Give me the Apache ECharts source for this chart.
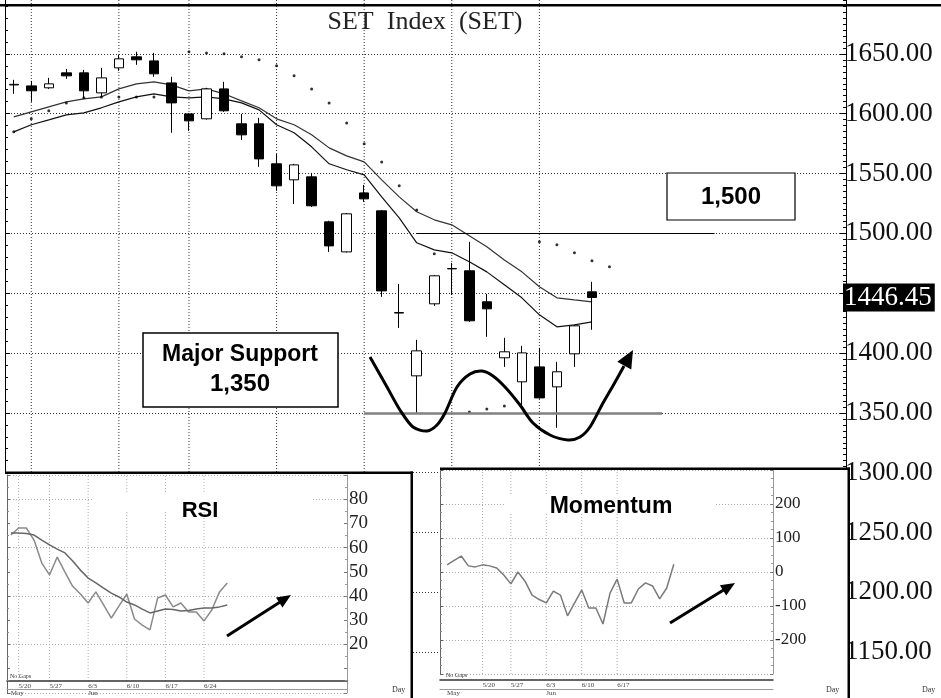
<!DOCTYPE html>
<html><head><meta charset="utf-8">
<script src="https://cdn.jsdelivr.net/npm/echarts@6/dist/echarts.min.js"></script>
<style>html,body{margin:0;padding:0;background:#fff}#c{width:941px;height:698px}</style>
</head><body><div id="c"></div>
<script>
// ---------------- DATA ----------------
const mainDates = ['5/10','5/13','5/14','5/15','5/16','5/17','5/20','5/21','5/22','5/23','5/27','5/28','5/29','5/30','5/31',
  '6/3','6/4','6/5','6/6','6/7','6/10','6/11','6/12','6/13','6/14','6/17','6/18','6/19','6/20','6/21','6/24','6/25','6/26','6/27',
  '6/28','7/1','7/2','7/3','7/4','7/5','7/8','7/9','7/10','7/11','7/12','7/15','7/16','7/17'];
const candleOpen  = [1624.0,1623.2,1621.6,1634.1,1634.1,1617.4,1638.3,1647.5,1644.1,1625.7,1599.8,1595.7,1620.7,1591.5,1591.5,1558.1,1544.7,1547.2,1509.6,1484.5,1533.8,1518.8,1433.4,1380.9,1441.1,1470.3,1468.7,1442.8,1396.0,1375.9,1388.4,1371.7,1399.3,1451.1];
const candleClose = [1624.5,1619.1,1624.9,1631.6,1619.1,1629.9,1645.8,1645.0,1633.3,1609.0,1594.0,1620.7,1602.4,1582.3,1562.2,1539.7,1557.2,1523.0,1489.5,1516.3,1528.8,1451.9,1433.8,1401.8,1464.5,1470.6,1426.9,1436.9,1401.0,1400.1,1362.5,1384.3,1422.7,1446.45];
const candleLow   = [1616.6,1609.9,1620.7,1629.1,1613.2,1614.0,1635.8,1640.8,1630.8,1584.0,1585.6,1595.0,1601.5,1578.1,1555.6,1535.5,1524.6,1522.0,1484.5,1484.0,1526.3,1446.9,1421.0,1350.0,1439.4,1448.6,1426.0,1413.5,1388.4,1353.3,1361.8,1337.5,1388.4,1419.4];
const candleHigh  = [1628.3,1627.4,1629.9,1637.4,1636.6,1638.3,1649.1,1651.7,1650.8,1630.8,1600.5,1621.6,1626.6,1599.8,1596.5,1566.4,1558.1,1550.5,1510.5,1517.0,1540.5,1519.5,1457.8,1411.0,1465.2,1475.3,1492.9,1449.4,1412.7,1406.0,1404.3,1392.6,1423.5,1459.5];
const maUpper = [1597.3,1601.5,1605.7,1609.9,1612.4,1614.0,1620.7,1624.9,1626.6,1624.1,1619.1,1620.7,1616.6,1610.7,1604.9,1595.7,1590.7,1582.3,1571.4,1564.7,1559.7,1544.7,1530.5,1518.0,1511.3,1507.1,1497.9,1488.7,1477.8,1467.8,1455.3,1446.1,1444.4,1442.8];
const maLower = [1584.8,1590.7,1594.8,1599.0,1600.7,1604.9,1609.9,1614.0,1616.6,1614.0,1613.2,1614.0,1612.4,1609.0,1603.2,1590.7,1584.0,1572.3,1558.1,1553.1,1548.9,1530.5,1512.9,1492.1,1486.2,1483.7,1476.2,1467.8,1457.0,1446.1,1431.9,1421.9,1423.5,1426.0];
const sarValues = [1584.8,1595.7,1602.4,1609.0,1613.2,1614.0,1614.0,1614.0,1614.0,'-',1651.7,1650.8,1650.0,1647.5,1645.0,1640.0,1631.6,1620.7,1609.0,1592.3,1574.8,1559.7,1539.7,1519.6,1482.9,'-',1350.8,1353.3,1355.8,'-',1492.9,1490.4,1483.7,1477.0,1472.0];
const mainGridDates = ['5/13','5/20','5/27','6/3','6/10','6/17','6/24'];
const lastClose = 1446.45;
const resistance = {level: 1500, start: '6/13', end: '7/8'};
const support = {level: 1350, start: '6/10', end: '7/3'};

const rsiDates = mainDates.slice(5).concat(['7/18']);
const rsiValues  = [65.2,68.1,68.1,63.1,53.6,48.7,56.1,49.9,44.0,40.8,37.1,41.7,36.3,30.9,35.9,40.8,30.5,28.0,26.0,39.2,40.4,35.5,37.1,33.4,33.4,29.7,34.2,41.7,45.4];
const rsiSignal  = [66.0,66.0,65.8,65.2,63.1,61.1,59.4,57.8,54.5,50.7,47.4,45.4,43.3,41.2,39.6,37.5,36.3,34.6,33.0,33.8,34.6,34.4,33.8,34.0,34.6,35.0,35.0,35.5,36.3];
const rsiGridDates = ['5/20','5/27','6/3','6/10','6/17','6/24'];

const momentumDates = mainDates;      // first category (5/10) has no value
const momentumValues = [21,34,47,18,15,21,18,12,-9,-35,0,-27,-68,-81,-91,-56,-68,-129,-91,-53,-106,-106,-153,-62,-21,-91,-91,-50,-32,-41,-79,-47,23];
const momentumGridDates = ['5/20','5/27','6/3','6/10','6/17'];

const mainY = {min: 1100, max: 1700, step: 50};
const rsiY = {min: 0, max: 90, step: 10, gridStep: 20, lo: 20, hi: 80, axisAt: 4.9};
const momY = {min: -300, max: 300, step: 100, lo: -200, hi: 200};
const monthNames = {'5': 'May', '6': 'Jun', '7': 'Jul'};

// ---------------- HELPERS ----------------
const serif = '"Liberation Serif", "Times New Roman", serif';
const sans = '"Liberation Sans", Arial, sans-serif';
function vGrid(xIdx, yIdx, dates, from, to, color, z) {
  return {type: 'custom', xAxisIndex: xIdx, yAxisIndex: yIdx, z: z, silent: true,
    data: dates.map(d => [d, from]), encode: {x: 0, y: 1},
    renderItem: function (params, api) {
      const a = api.coord([api.value(0), from]);
      const b = api.coord([api.value(0), to]);
      return {type: 'line', shape: {x1: a[0], y1: a[1], x2: b[0], y2: b[1]},
        style: {stroke: color, lineWidth: 1, lineDash: [1, 2]}};
    }};
}
function monthInterval(dates, first, count) {
  return function (i) {
    if (i < first || i >= first + count) return false;
    return i === first || dates[i].split('/')[0] !== dates[i - 1].split('/')[0];
  };
}
function monthLabel(v) { return monthNames[v.split('/')[0]] || ''; }
function arrow(from, tip, len, half, width, z) {
  const dx = tip[0] - from[0], dy = tip[1] - from[1], L = Math.hypot(dx, dy);
  const ux = dx / L, uy = dy / L;
  const bx = tip[0] - ux * len, by = tip[1] - uy * len;
  return [
    {type: 'line', z: z, shape: {x1: from[0], y1: from[1], x2: bx + ux * 2, y2: by + uy * 2}, style: {stroke: '#000', lineWidth: width}},
    {type: 'polygon', z: z, shape: {points: [tip, [bx - uy * half, by + ux * half], [bx + uy * half, by - ux * half]]}, style: {fill: '#000'}}
  ];
}

// annotation geometry (hand drawn shapes in the picture)
const wCurve = [[370,357],[387,387],[400,410],[413,427],[427,431],[437,425],[445,413],[457,387],[470,374],[482,371],[493,376],[505,387],[520,405],[533,423],[550,435],[568,440],[580,437],[590,427],[603,403],[614,384]];
const wTip = [633,350];

const chart = echarts.init(document.getElementById('c'));
const candles = candleOpen.map((o, i) => [o, candleClose[i], candleLow[i], candleHigh[i]]);

function insetDateAxis(grid, dates, gridDates, offset, boundaryGap) {
  return {gridIndex: grid, type: 'category', position: 'bottom', data: dates, boundaryGap: boundaryGap, offset: offset, z: 10,
    axisLine: {onZero: false, lineStyle: {color: '#333', width: 1.5}}, axisTick: {show: false},
    axisLabel: {interval: (i, v) => gridDates.includes(v), align: 'left', fontSize: 7, fontFamily: serif, color: '#444', margin: 2},
    splitLine: {show: false}};
}
function insetMonthAxis(grid, dates, first, count, offset, boundaryGap) {
  return {gridIndex: grid, type: 'category', position: 'bottom', data: dates, boundaryGap: boundaryGap, offset: offset, z: 10,
    axisLine: {onZero: false, lineStyle: {color: '#999', width: 1}}, axisTick: {show: false},
    axisLabel: {interval: monthInterval(dates, first, count), formatter: monthLabel, align: 'left', fontSize: 7, fontFamily: serif, color: '#444', margin: 1},
    splitLine: {show: false}};
}

const option = {
  animation: false,
  backgroundColor: '#fff',
  grid: [
    {left: 5, right: 95, top: -6, bottom: -14, containLabel: false, outerBoundsMode: 'none'},
    {left: 7, width: 340, top: 475, bottom: 5.2, containLabel: false, outerBoundsMode: 'none'},
    {left: 440, width: 333, top: 470, bottom: 24, containLabel: false, outerBoundsMode: 'none'}
  ],
  xAxis: [
    {gridIndex: 0, type: 'category', position: 'bottom', data: mainDates, boundaryGap: true,
      axisLine: {show: false, onZero: false}, axisTick: {show: false}, axisLabel: {show: false}, splitLine: {show: false}},
    insetDateAxis(1, rsiDates, rsiGridDates, -11.8, true),
    insetMonthAxis(1, rsiDates, 0, rsiValues.length, -3.8, true),
    insetDateAxis(2, momentumDates, momentumGridDates, 6, false),
    insetMonthAxis(2, momentumDates, 1, momentumValues.length, 15, false)
  ],
  yAxis: [
    {gridIndex: 0, type: 'value', position: 'right', min: mainY.min, max: mainY.max, interval: mainY.step,
      axisLine: {show: true, lineStyle: {color: '#000', width: 1}},
      axisTick: {show: true, inside: true, length: 6, lineStyle: {color: '#000'}},
      minorTick: {show: true, splitNumber: 10, length: 3, lineStyle: {color: '#000'}},
      axisLabel: {formatter: v => (v > mainY.min && v < mainY.max && Math.abs(v - lastClose) > 20) ? v.toFixed(2) : '',
        fontFamily: serif, fontSize: 27, color: '#111', margin: -1},
      splitLine: {show: true, lineStyle: {color: '#333', type: [1, 2], width: 1}}},
    {gridIndex: 0, type: 'value', position: 'left', min: mainY.min, max: mainY.max, interval: mainY.step,
      axisLine: {show: true, lineStyle: {color: '#000', width: 1}},
      axisTick: {show: true, inside: true, length: 5, lineStyle: {color: '#000'}},
      minorTick: {show: true, splitNumber: 5, length: 3, lineStyle: {color: '#000'}},
      axisLabel: {show: false}, splitLine: {show: false}},
    {gridIndex: 1, type: 'value', position: 'right', min: rsiY.min, max: rsiY.max, interval: rsiY.step, z: 10,
      axisLine: {show: true, lineStyle: {color: '#999'}},
      axisTick: {show: true, inside: true, length: 3, lineStyle: {color: '#777'}},
      minorTick: {show: true, splitNumber: 2, length: 2, lineStyle: {color: '#999'}},
      axisLabel: {formatter: v => (v >= rsiY.lo && v <= rsiY.hi) ? String(v) : '', fontFamily: serif, fontSize: 19, color: '#222', margin: 2},
      splitLine: {show: false}},
    {gridIndex: 1, type: 'value', position: 'right', min: rsiY.min, max: rsiY.max, interval: rsiY.gridStep, z: 10,
      axisLine: {show: false}, axisTick: {show: false}, axisLabel: {show: false},
      splitLine: {show: true, lineStyle: {color: '#aaa', type: [1, 2], width: 1}}},
    {gridIndex: 1, type: 'value', position: 'left', min: rsiY.min, max: rsiY.max, interval: rsiY.step, z: 10,
      axisLine: {show: true, lineStyle: {color: '#666'}},
      axisTick: {show: true, inside: true, length: 3, lineStyle: {color: '#666'}},
      minorTick: {show: true, splitNumber: 2, length: 2, lineStyle: {color: '#888'}},
      axisLabel: {show: false}, splitLine: {show: false}},
    {gridIndex: 2, type: 'value', position: 'right', min: momY.min, max: momY.max, interval: momY.step, z: 10,
      axisLine: {show: true, lineStyle: {color: '#999'}},
      axisTick: {show: true, inside: true, length: 3, lineStyle: {color: '#777'}},
      minorTick: {show: true, splitNumber: 4, length: 2, lineStyle: {color: '#999'}},
      axisLabel: {formatter: v => (v >= momY.lo && v <= momY.hi) ? String(v) : '', fontFamily: serif, fontSize: 17, color: '#222', margin: 2},
      splitLine: {show: true, lineStyle: {color: '#aaa', type: [1, 2], width: 1}}},
    {gridIndex: 2, type: 'value', position: 'left', min: momY.min, max: momY.max, interval: momY.step, z: 10,
      axisLine: {show: true, lineStyle: {color: '#666'}},
      axisTick: {show: true, inside: true, length: 3, lineStyle: {color: '#666'}},
      minorTick: {show: true, splitNumber: 4, length: 2, lineStyle: {color: '#888'}},
      axisLabel: {show: false}, splitLine: {show: false}}
  ],
  series: [
    vGrid(0, 0, mainGridDates, mainY.min, mainY.max, '#333', 1),
    {type: 'candlestick', xAxisIndex: 0, yAxisIndex: 0, z: 2, barWidth: 10, data: candles,
      itemStyle: {color: '#fff', color0: '#000', borderColor: '#000', borderColor0: '#000', borderColorDoji: '#000', borderWidth: 1},
      markLine: {silent: true, symbol: ['none', 'none'], animation: false, label: {show: false},
        data: [
          [{coord: [resistance.start, resistance.level], lineStyle: {color: '#000', width: 1.2, type: 'solid'}},
           {coord: [resistance.end, resistance.level], lineStyle: {color: '#000', width: 1.2, type: 'solid'}}],
          [{coord: [support.start, support.level], lineStyle: {color: '#808080', width: 2.5, type: 'solid'}},
           {coord: [support.end, support.level], lineStyle: {color: '#808080', width: 2.5, type: 'solid'}}],
          {yAxis: lastClose, lineStyle: {color: 'rgba(0,0,0,0)', width: 1, type: 'solid'},
            label: {show: true, position: 'end', distance: -3, formatter: () => lastClose.toFixed(2),
              backgroundColor: '#000', color: '#fff', fontFamily: serif, fontSize: 27, padding: [1, 3, 0, 1], opacity: 1}}
        ]}},
    {type: 'line', xAxisIndex: 0, yAxisIndex: 0, z: 2, data: maUpper, symbol: 'none', lineStyle: {color: '#333', width: 1.2}},
    {type: 'line', xAxisIndex: 0, yAxisIndex: 0, z: 2, data: maLower, symbol: 'none', lineStyle: {color: '#111', width: 1.2}},
    {type: 'scatter', xAxisIndex: 0, yAxisIndex: 0, z: 3, data: sarValues, symbol: 'circle', symbolSize: 3, itemStyle: {color: '#000'}},
    vGrid(1, 2, rsiGridDates, rsiY.axisAt, rsiY.max, '#aaa', 9),
    {type: 'line', xAxisIndex: 1, yAxisIndex: 2, z: 10, data: rsiValues, symbol: 'none', lineStyle: {color: '#8a8a8a', width: 1.5}},
    {type: 'line', xAxisIndex: 1, yAxisIndex: 2, z: 10, data: rsiSignal, symbol: 'none', lineStyle: {color: '#666', width: 1.5}},
    vGrid(3, 5, momentumGridDates, momY.min, momY.max, '#aaa', 9),
    {type: 'line', xAxisIndex: 3, yAxisIndex: 5, z: 10, data: [null].concat(momentumValues), symbol: 'none', lineStyle: {color: '#7a7a7a', width: 1.5}}
  ],
  graphic: [
    // title
    {type: 'text', z: 6, x: 425, y: 22, style: {text: 'SET  Index  (SET)', font: '26px ' + serif, fill: '#222', align: 'center', verticalAlign: 'middle'}},
    // 1,500 box
    {type: 'rect', z: 5, shape: {x: 667, y: 173, width: 128, height: 47}, style: {fill: '#fff', stroke: '#000', lineWidth: 1.2}},
    {type: 'text', z: 6, x: 731, y: 197, style: {text: '1,500', font: 'bold 24px ' + sans, fill: '#000', align: 'center', verticalAlign: 'middle'}},
    // Major support box
    {type: 'rect', z: 5, shape: {x: 143, y: 333, width: 195, height: 74}, style: {fill: '#fff', stroke: '#000', lineWidth: 1.5}},
    {type: 'text', z: 6, x: 240, y: 355, style: {text: 'Major Support', font: 'bold 23px ' + sans, fill: '#000', align: 'center', verticalAlign: 'middle'}},
    {type: 'text', z: 6, x: 240, y: 384, style: {text: '1,350', font: 'bold 24px ' + sans, fill: '#000', align: 'center', verticalAlign: 'middle'}},
    // W curve
    {type: 'polyline', z: 6, shape: {points: wCurve.concat([[wTip[0] - 9, wTip[1] + 16]]), smooth: 0.3}, style: {stroke: '#000', lineWidth: 3, fill: null}},
    ...arrow([618, 377], wTip, 18, 8, 3, 6).slice(1),
    // RSI inset box
    {type: 'rect', z: 5, shape: {x: 5, y: 473, width: 407, height: 230}, style: {fill: '#fff'}},
    {type: 'rect', z: 20, shape: {x: 5, y: 471.5, width: 408, height: 2.5}, style: {fill: '#000'}},
    {type: 'rect', z: 20, shape: {x: 410.5, y: 471.5, width: 2.5, height: 230}, style: {fill: '#000'}},
    {type: 'rect', z: 11, shape: {x: 92, y: 492, width: 220, height: 20}, style: {fill: '#fff'}},
    {type: 'text', z: 12, x: 200, y: 511, style: {text: 'RSI', font: 'bold 22px ' + sans, fill: '#000', align: 'center', verticalAlign: 'middle'}},
    ...arrow([227, 636], [291, 595], 14, 6, 3, 12),
    {type: 'text', z: 12, x: 10, y: 676, style: {text: 'No Gaps', font: '6px ' + serif, fill: '#333', verticalAlign: 'middle'}},
    {type: 'text', z: 12, x: 392, y: 690, style: {text: 'Day', font: '8px ' + serif, fill: '#333', verticalAlign: 'middle'}},
    // Momentum inset box
    {type: 'rect', z: 5, shape: {x: 440, y: 469, width: 410, height: 230}, style: {fill: '#fff'}},
    {type: 'rect', z: 20, shape: {x: 440, y: 467.5, width: 410, height: 2.5}, style: {fill: '#000'}},
    {type: 'rect', z: 20, shape: {x: 847.5, y: 467.5, width: 2.5, height: 231}, style: {fill: '#000'}},
    {type: 'rect', z: 11, shape: {x: 505, y: 494, width: 211, height: 18}, style: {fill: '#fff'}},
    {type: 'text', z: 12, x: 611, y: 507, style: {text: 'Momentum', font: 'bold 23px ' + sans, fill: '#000', align: 'center', verticalAlign: 'middle'}},
    ...arrow([670, 623], [735, 583], 14, 6, 3, 12),
    {type: 'text', z: 12, x: 446, y: 675, style: {text: 'No Gaps', font: '6px ' + serif, fill: '#333', verticalAlign: 'middle'}},
    {type: 'text', z: 12, x: 826, y: 690, style: {text: 'Day', font: '8px ' + serif, fill: '#333', verticalAlign: 'middle'}},
    // main chart axis name and top border
    {type: 'text', z: 12, x: 922, y: 690, style: {text: 'Day', font: '8px ' + serif, fill: '#333', verticalAlign: 'middle'}},
    {type: 'rect', z: 20, shape: {x: 0, y: 4, width: 941, height: 2.5}, style: {fill: '#000'}}
  ]
};
chart.setOption(option);
</script>
</body></html>
